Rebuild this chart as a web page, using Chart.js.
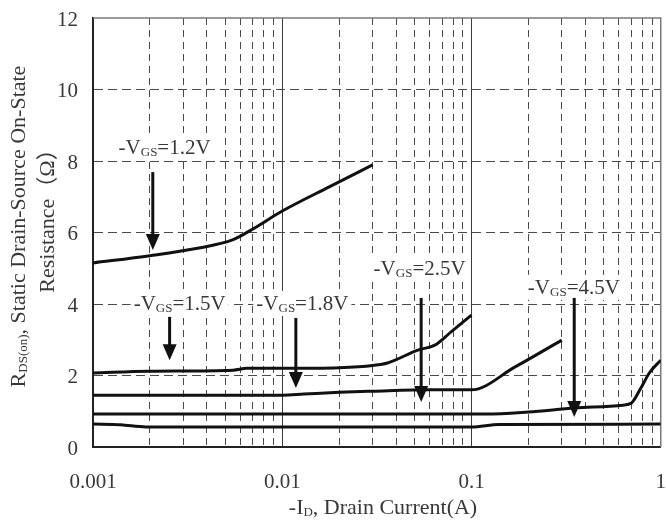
<!DOCTYPE html>
<html>
<head>
<meta charset="utf-8">
<script src="https://cdn.jsdelivr.net/npm/chart.js@4/dist/chart.umd.min.js"></script>
<style>
  html, body { margin: 0; padding: 0; background: #fff; }
  #wrap { width: 666px; height: 525px; position: relative; }
</style>
</head>
<body>
<div id="wrap"><canvas id="rdsChart"></canvas></div>
<script>
// -ID (A) and RDS(on) (ohm) for each gate voltage
const vgsLabels = ["1.2V", "1.5V", "1.8V", "2.5V", "4.5V"];

const id12 = [0.001, 0.002, 0.0035, 0.0055, 0.007, 0.01, 0.0176, 0.03];
const rds12 = [5.15, 5.35, 5.55, 5.8, 6.1, 6.6, 7.27, 7.89];

const id15 = [0.001, 0.002, 0.0055, 0.0065, 0.01, 0.02, 0.03, 0.036, 0.052, 0.064, 0.078, 0.1];
const rds15 = [2.07, 2.12, 2.15, 2.2, 2.2, 2.22, 2.28, 2.35, 2.71, 2.85, 3.22, 3.69];

const id18 = [0.001, 0.005, 0.01, 0.013, 0.02, 0.03, 0.06, 0.1, 0.17, 0.3];
const rds18 = [1.45, 1.45, 1.45, 1.48, 1.53, 1.56, 1.6, 1.6, 2.24, 2.99];

const id25 = [0.001, 0.01, 0.12, 0.2, 0.35, 0.63, 0.7, 0.78, 0.87, 1.0];
const rds25 = [0.92, 0.92, 0.92, 0.98, 1.09, 1.17, 1.23, 1.62, 2.07, 2.43];

const id45 = [0.001, 0.0014, 0.0019, 0.01, 0.1, 0.14, 1.0];
const rds45 = [0.64, 0.62, 0.56, 0.56, 0.56, 0.63, 0.64];

const currents = [id12, id15, id18, id25, id45];
const resistances = [rds12, rds15, rds18, rds25, rds45];

// callouts: label centre and arrow (x, top, tip) in data units
const labelX = [0.00239, 0.00287, 0.01277, 0.0532, 0.3475];
const labelY = [8.39, 4.03, 4.03, 5.01, 4.48];
const arrowX = [0.00207, 0.00254, 0.0118, 0.0542, 0.349];
const arrowTop = [7.69, 3.64, 3.61, 4.17, 4.17];
const arrowTip = [5.51, 2.43, 1.65, 1.26, 0.84];

const xTickValues = [0.001, 0.01, 0.1, 1];
const xTickLabels = ["0.001", "0.01", "0.1", "1"];
const yTickValues = [0, 2, 4, 6, 8, 10, 12];

const SERIF = "'Liberation Serif', 'Times New Roman', 'Noto Sans CJK TC', serif";
const TEXT = "#383838";
const NONE = "rgba(0,0,0,0)";

// grid positions 1..9 per decade
const xGridValues = [];
[0.001, 0.01, 0.1].forEach((d) => {
  for (let k = 1; k <= 9; k++) xGridValues.push(Number((k * d).toPrecision(3)));
});
xGridValues.push(1);

const isDecade = (v) => xTickValues.some((t) => Math.abs(t - v) < 1e-9);

// text with subscript parts, e.g. [["-V"], ["GS", true], ["=1.2V"]]
function richWidth(ctx, parts, size, subSize) {
  let w = 0;
  parts.forEach(([t, sub]) => {
    ctx.font = (sub ? subSize : size) + "px " + SERIF;
    w += ctx.measureText(t).width;
  });
  return w;
}

function drawRich(ctx, parts, cx, baseline, size, subSize, subDrop) {
  const w = richWidth(ctx, parts, size, subSize);
  let x = cx - w / 2;
  ctx.textAlign = "left";
  ctx.textBaseline = "alphabetic";
  parts.forEach(([t, sub]) => {
    ctx.font = (sub ? subSize : size) + "px " + SERIF;
    ctx.fillText(t, x, baseline + (sub ? subDrop : 0));
    x += ctx.measureText(t).width;
  });
  return w;
}

const framePlugin = {
  id: "frame",
  beforeDatasetsDraw(chart) {
    const { ctx, chartArea: a } = chart;
    ctx.save();
    ctx.strokeStyle = "#7a7a7a";
    ctx.lineWidth = 1.5;
    ctx.beginPath();
    ctx.moveTo(a.left, a.top);
    ctx.lineTo(a.right, a.top);
    ctx.lineTo(a.right, a.bottom);
    ctx.stroke();
    ctx.restore();
  },
};

const calloutPlugin = {
  id: "callouts",
  afterDatasetsDraw(chart) {
    const { ctx } = chart;
    const xs = chart.scales.x;
    const ys = chart.scales.y;
    ctx.save();
    vgsLabels.forEach((v, i) => {
      const parts = [["-V"], ["GS", true], ["=" + v]];
      const cx = xs.getPixelForValue(labelX[i]);
      const cy = ys.getPixelForValue(labelY[i]);
      const w = richWidth(ctx, parts, 21, 13);
      ctx.fillStyle = "#fff";
      ctx.fillRect(cx - w / 2 - 3, cy - 12, w + 6, 25);
      ctx.fillStyle = TEXT;
      drawRich(ctx, parts, cx, cy + 7, 21, 13, 2);

      const ax = xs.getPixelForValue(arrowX[i]);
      const top = ys.getPixelForValue(arrowTop[i]);
      const tip = ys.getPixelForValue(arrowTip[i]);
      ctx.strokeStyle = "#111";
      ctx.lineWidth = 3;
      ctx.beginPath();
      ctx.moveTo(ax, top);
      ctx.lineTo(ax, tip - 12);
      ctx.stroke();
      ctx.fillStyle = "#111";
      ctx.beginPath();
      ctx.moveTo(ax - 7, tip - 16);
      ctx.lineTo(ax + 7, tip - 16);
      ctx.lineTo(ax, tip);
      ctx.closePath();
      ctx.fill();
    });
    ctx.restore();
  },
};

const titlePlugin = {
  id: "axisTitles",
  afterDraw(chart) {
    const { ctx, chartArea: a } = chart;
    const mid = (a.top + a.bottom) / 2;
    ctx.save();
    ctx.fillStyle = TEXT;
    // y title, two rotated lines
    ctx.save();
    ctx.translate(25, mid - 6);
    ctx.rotate(-Math.PI / 2);
    drawRich(ctx, [["R"], ["DS(on)", true], [", Static Drain-Source On-State"]], 0, 0, 22, 13, 2);
    ctx.restore();
    ctx.save();
    ctx.translate(54, mid - 17);
    ctx.rotate(-Math.PI / 2);
    drawRich(ctx, [["Resistance（Ω）"]], 0, 0, 22, 13, 2);
    ctx.restore();
    // x title
    drawRich(ctx, [["-I"], ["D", true], [", Drain Current(A)"]], 383, 514, 22, 13, 2);
    ctx.restore();
  },
};

const datasets = vgsLabels.map((v, i) => ({
  label: "-VGS=" + v,
  data: currents[i].map((x, j) => ({ x: x, y: resistances[i][j] })),
  borderColor: "#111",
  borderWidth: 3,
  pointRadius: 0,
  fill: false,
  cubicInterpolationMode: "monotone",
}));

new Chart(document.getElementById("rdsChart").getContext("2d"), {
  type: "line",
  data: { datasets: datasets },
  options: {
    responsive: true,
    maintainAspectRatio: false,
    animation: false,
    layout: { padding: { top: 18, right: 2, left: 0, bottom: 0 } },
    plugins: {
      legend: { display: false },
      tooltip: { enabled: false },
    },
    scales: {
      x: {
        type: "logarithmic",
        min: 0.001,
        max: 1,
        afterBuildTicks: (scale) => {
          scale.ticks = xGridValues.map((v) => ({ value: v }));
        },
        afterFit: (scale) => {
          scale.height = 78;
        },
        ticks: {
          autoSkip: false,
          maxRotation: 0,
          padding: 0,
          color: TEXT,
          font: { family: SERIF, size: 21 },
          callback: (value) => {
            const idx = xTickValues.findIndex((t) => Math.abs(t - value) < 1e-9);
            return idx >= 0 ? xTickLabels[idx] : "";
          },
        },
        grid: {
          drawTicks: true,
          tickLength: 23,
          tickColor: NONE,
          lineWidth: 1,
          color: (c) => {
            const v = c.tick ? c.tick.value : null;
            if (v === 0.001 || v === 1) return NONE;
            return isDecade(v) ? "#3a3a3a" : "#4a4a4a";
          },
        },
        border: {
          display: true,
          color: "#222",
          width: 2,
          dash: (c) => (c.tick && !isDecade(c.tick.value) ? [7, 5] : []),
        },
      },
      y: {
        min: 0,
        max: 12,
        afterBuildTicks: (scale) => {
          scale.ticks = yTickValues.map((v) => ({ value: v }));
        },
        afterFit: (scale) => {
          scale.width = 93;
        },
        ticks: {
          padding: 0,
          labelOffset: 2,
          color: TEXT,
          font: { family: SERIF, size: 21 },
        },
        grid: {
          drawTicks: true,
          tickLength: 15,
          tickColor: NONE,
          lineWidth: 1,
          color: (c) => {
            const v = c.tick ? c.tick.value : null;
            return v === 0 || v === 12 ? NONE : "#4a4a4a";
          },
        },
        border: {
          display: true,
          color: "#222",
          width: 2,
          dash: [9, 5],
        },
      },
    },
  },
  plugins: [framePlugin, calloutPlugin, titlePlugin],
});
</script>
</body>
</html>
